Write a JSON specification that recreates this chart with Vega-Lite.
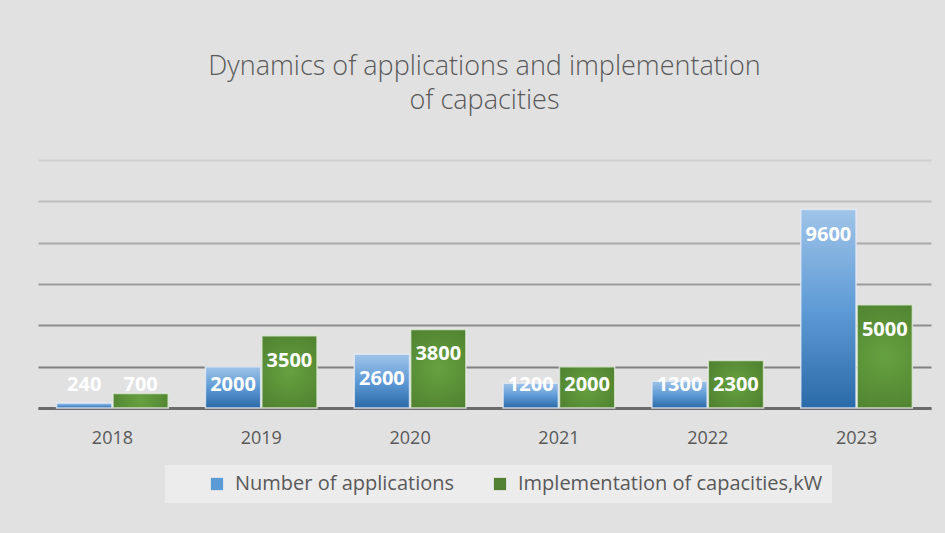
{
  "$schema": "https://vega.github.io/schema/vega-lite/v6.json",
  "width": 893,
  "height": 248,
  "padding": {"left": 38, "right": 14, "top": 53, "bottom": 33},
  "autosize": {"type": "pad"},
  "background": "#e1e1e1",
  "title": {
    "text": ["Dynamics of applications and implementation", "of capacities"],
    "font": "Open Sans",
    "fontWeight": 300,
    "fontSize": 27,
    "color": "#595959",
    "lineHeight": 34,
    "offset": 45,
    "anchor": "middle"
  },
  "data": {
    "values": [
      {"year": "2018", "series": "Number of applications", "value": 240},
      {"year": "2018", "series": "Implementation of capacities,kW", "value": 700},
      {"year": "2019", "series": "Number of applications", "value": 2000},
      {"year": "2019", "series": "Implementation of capacities,kW", "value": 3500},
      {"year": "2020", "series": "Number of applications", "value": 2600},
      {"year": "2020", "series": "Implementation of capacities,kW", "value": 3800},
      {"year": "2021", "series": "Number of applications", "value": 1200},
      {"year": "2021", "series": "Implementation of capacities,kW", "value": 2000},
      {"year": "2022", "series": "Number of applications", "value": 1300},
      {"year": "2022", "series": "Implementation of capacities,kW", "value": 2300},
      {"year": "2023", "series": "Number of applications", "value": 9600},
      {"year": "2023", "series": "Implementation of capacities,kW", "value": 5000}
    ]
  },
  "encoding": {
    "x": {
      "field": "year",
      "type": "nominal",
      "scale": {"paddingInner": 0.25, "paddingOuter": 0.125},
      "axis": {
        "title": null,
        "labelAngle": 0,
        "labelFont": "Open Sans",
        "labelFontSize": 18,
        "labelColor": "#595959",
        "labelPadding": 21,
        "ticks": false,
        "domainColor": "#6b6b6b",
        "domainWidth": 3
      }
    },
    "xOffset": {
      "field": "series",
      "type": "nominal",
      "scale": {"domain": ["Number of applications", "Implementation of capacities,kW"], "paddingInner": 0.02}
    },
    "y": {
      "field": "value",
      "type": "quantitative",
      "scale": {"domain": [0, 12000]},
      "axis": {
        "title": null,
        "labels": false,
        "ticks": false,
        "domain": false,
        "values": [0, 2000, 4000, 6000, 8000, 10000, 12000],
        "gridWidth": 2,
        "gridColor": {
          "condition": [
            {"test": "datum.value >= 12000", "value": "#d0d0d0"},
            {"test": "datum.value >= 10000", "value": "#bdbdbd"},
            {"test": "datum.value >= 8000", "value": "#aaaaaa"},
            {"test": "datum.value >= 6000", "value": "#9c9c9c"},
            {"test": "datum.value >= 4000", "value": "#8e8e8e"}
          ],
          "value": "#808080"
        }
      }
    }
  },
  "layer": [
    {
      "mark": {"type": "bar"},
      "encoding": {
        "color": {
          "field": "series",
          "type": "nominal",
          "scale": {
            "domain": ["Number of applications", "Implementation of capacities,kW"],
            "range": ["#5b9bd5", "#548235"]
          },
          "legend": {
            "title": null,
            "orient": "none",
            "legendX": 127,
            "legendY": 305,
            "direction": "horizontal",
            "fillColor": "#ececec",
            "padding": 9,
            "labelFont": "Open Sans",
            "labelFontSize": 20,
            "labelColor": "#595959",
            "labelLimit": 500,
            "symbolType": "square",
            "symbolSize": 150,
            "symbolStrokeWidth": 0,
            "symbolOffset": 33,
            "columnPadding": 2,
            "labelOffset": 8
          }
        }
      }
    },
    {
      "transform": [{"filter": "datum.series === 'Number of applications'"}],
      "mark": {
        "type": "bar",
        "fill": {
          "gradient": "linear",
          "x1": 0, "y1": 0, "x2": 0, "y2": 1,
          "stops": [
            {"offset": 0, "color": "#9fc4e8"},
            {"offset": 0.5, "color": "#5f9bd6"},
            {"offset": 1, "color": "#2b6aa8"}
          ]
        },
        "stroke": "#e8eef5",
        "strokeOpacity": 0.8,
        "strokeWidth": 1.5
      }
    },
    {
      "transform": [{"filter": "datum.series !== 'Number of applications'"}],
      "mark": {
        "type": "bar",
        "fill": {
          "gradient": "radial",
          "x1": 0.5, "y1": 0.5, "r1": 0,
          "x2": 0.5, "y2": 0.5, "r2": 0.75,
          "stops": [
            {"offset": 0, "color": "#66a140"},
            {"offset": 1, "color": "#4a7a2c"}
          ]
        },
        "stroke": "#e8efe4",
        "strokeOpacity": 0.8,
        "strokeWidth": 1.5
      }
    },
    {
      "transform": [{"filter": "datum.value > 2000"}],
      "mark": {
        "type": "text",
        "color": "#ffffff",
        "font": "Open Sans",
        "fontWeight": "bold",
        "fontSize": 20,
        "baseline": "middle",
        "dy": 25
      },
      "encoding": {
        "text": {"field": "value", "type": "quantitative"}
      }
    },
    {
      "transform": [{"filter": "datum.value <= 2000"}],
      "mark": {
        "type": "text",
        "color": "#ffffff",
        "font": "Open Sans",
        "fontWeight": "bold",
        "fontSize": 20,
        "baseline": "middle",
        "dy": 18
      },
      "encoding": {
        "y": {"datum": 2000, "type": "quantitative"},
        "text": {"field": "value", "type": "quantitative"}
      }
    }
  ],
  "config": {
    "view": {"stroke": null}
  }
}
